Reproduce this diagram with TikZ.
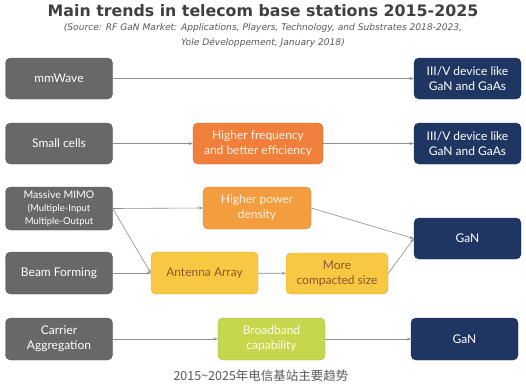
\documentclass[tikz,border=0pt]{standalone}
\usepackage{fontspec}
\setmainfont{Lato}
\newfontfamily\titlefont{DejaVu Sans}
\newfontfamily\cjkfont{Noto Sans CJK SC}
\usetikzlibrary{arrows.meta}
\definecolor{grayb}{HTML}{686868}
\definecolor{navyb}{HTML}{1F3663}
\definecolor{orangeA}{HTML}{EF7F3B}
\definecolor{orangeB}{HTML}{F39D3E}
\definecolor{yellowb}{HTML}{F8C843}
\definecolor{limeb}{HTML}{C6D64D}
\definecolor{linec}{HTML}{8E8E8E}
\definecolor{titlec}{HTML}{404040}
\definecolor{srcc}{HTML}{595959}
\tikzset{
  box/.style={rounded corners=5pt, minimum width=107pt, minimum height=41pt, align=center, font=\fontsize{12}{15}\selectfont, inner sep=2pt},
  graybox/.style={box, fill=grayb, draw=grayb!85!black, text=white},
  navybox/.style={box, fill=navyb, draw=navyb!85!black, text=white},
  orangeAbox/.style={box, fill=orangeA, draw=orangeA!85!black, text=orange!10!white},
  orangeBbox/.style={box, fill=orangeB, draw=orangeB!85!black, text=orange!10!white},
  yellowbox/.style={box, fill=yellowb, draw=yellowb!85!black, text=brown!70!black},
  limebox/.style={box, fill=limeb, draw=limeb!85!black, text=yellow!10!white},
  conn/.style={draw=linec, line width=0.6pt, -{Stealth[length=4pt,width=3pt]}}
}
\begin{document}
\begin{tikzpicture}[x=1pt,y=-1pt]
\useasboundingbox[fill=white] (0,0) rectangle (526,384);
\node[font=\titlefont\bfseries\fontsize{15.8}{19}\selectfont, text=titlec] (title) at (263,11) {Main trends in telecom base stations 2015-2025};
\node[font=\titlefont\itshape\fontsize{9.1}{15}\selectfont, text=srcc, align=center] (src) at (263,35.5) {(Source: RF GaN Market: Applications, Players, Technology, and Substrates 2018-2023,\\Yole Développement, January 2018)};

\node[graybox] (mm) at (59,78.5) {mmWave};
\node[graybox] (sc) at (59,143.5) {Small cells};
\node[graybox, minimum height=43pt, font=\fontsize{10.5}{13}\selectfont] (mimo) at (59,208.5) {Massive MIMO\\{\fontsize{9.5}{12.5}\selectfont (Multiple-Input}\\{\fontsize{9.5}{12.5}\selectfont Multiple-Output}};
\node[graybox, minimum height=42pt] (bf) at (59,273) {Beam Forming};
\node[graybox, minimum height=42pt] (ca) at (59,339) {Carrier\\Aggregation};

\node[navybox] (d1) at (467.5,78.5) {III/V device like\\GaN and GaAs};
\node[navybox] (d2) at (467.5,143.5) {III/V device like\\GaN and GaAs};
\node[navybox] (g1) at (467.5,238.5) {GaN};
\node[navybox, minimum height=42pt] (g2) at (464.5,339) {GaN};

\node[orangeAbox, minimum width=130pt] (hf) at (258,143.5) {Higher frequency\\and better efficiency};
\node[orangeBbox, minimum width=108pt, minimum height=42pt] (hp) at (257,208) {Higher power\\density};
\node[yellowbox, minimum height=42pt] (aa) at (204.5,273) {Antenna Array};
\node[yellowbox, minimum width=102pt] (mc) at (337,273.5) {More\\compacted size};
\node[limebox, minimum height=42pt] (bb) at (271.5,339) {Broadband\\capability};

\draw[conn] (mm) -- (d1);
\draw[conn] (sc) -- (hf);
\draw[conn] (hf) -- (d2);
\draw[conn] (mimo.east) -- (hp.west);
\draw[conn] (mimo.east) -- (aa.west);
\draw[conn] (bf) -- (aa);
\draw[conn] (aa) -- (mc);
\draw[conn] (hp.east) -- (g1.west);
\draw[conn] (mc.east) -- (g1.west);
\draw[conn] (ca) -- (bb);
\draw[conn] (bb) -- (g2);

\node[font=\cjkfont\fontsize{12.5}{14}\selectfont, text=srcc] (foot) at (261,376) {2015\textasciitilde 2025年电信基站主要趋势};
\end{tikzpicture}
\end{document}
